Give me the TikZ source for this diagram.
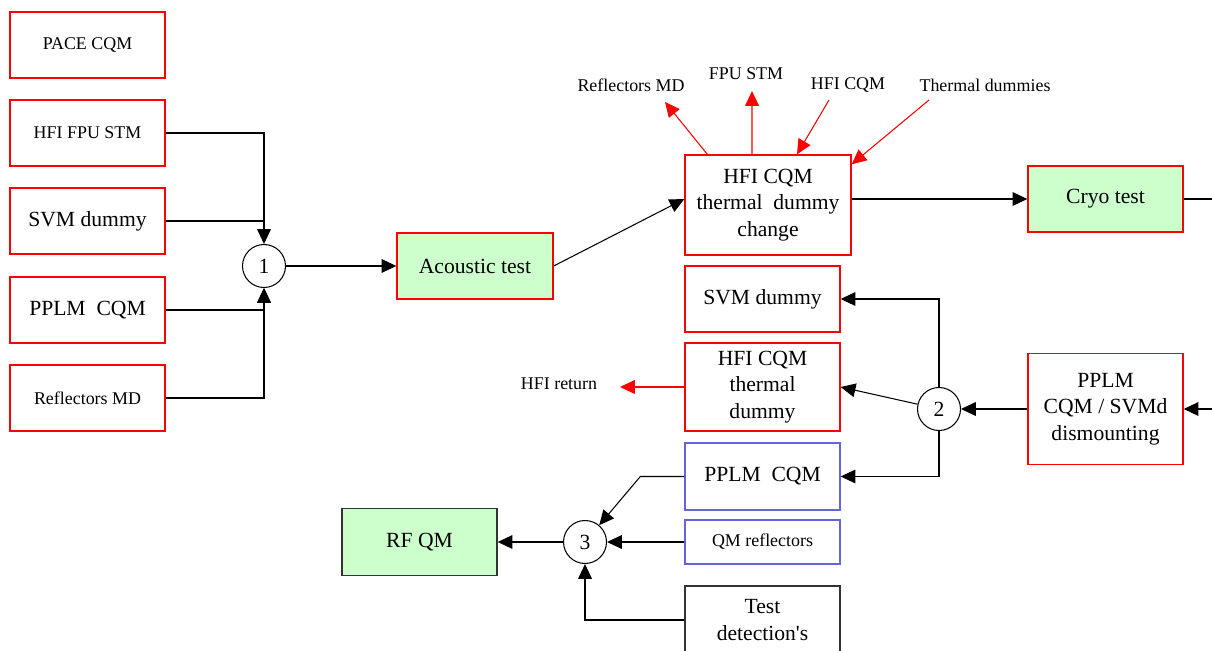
\documentclass[tikz,border=0pt]{standalone}
\usepackage{fontspec}
\setmainfont{Liberation Serif}
\newfontfamily\plainap{Liberation Serif}
\usetikzlibrary{arrows.meta}
\definecolor{testgreen}{RGB}{204,255,204}
\definecolor{qmblue}{RGB}{100,100,220}
\definecolor{darkline}{RGB}{50,50,50}
\newcommand{\smalltxt}{\fontsize{10.2}{12.5}\selectfont}
\newcommand{\bigtxt}{\fontsize{12.3}{15.2}\selectfont}

\begin{document}
\begin{tikzpicture}[x=0.02cm, y=-0.02cm,
    box/.style = {draw=red, line width=0.8pt, minimum width=3.1cm, minimum height=1.32cm, inner sep=0pt, align=center, font=\bigtxt},
    greenbox/.style = {box, fill=testgreen},
    bluebox/.style = {box, draw=qmblue},
    joint/.style = {draw, circle, line width=0.6pt, minimum size=0.86cm, inner sep=0pt, font=\bigtxt},
    lbl/.style = {font=\smalltxt, inner sep=0pt},
    arr/.style = {line width=0.6pt, -{Triangle[length=8.4pt,width=7.8pt]}},
    redarr/.style = {arr, red}]
  \useasboundingbox (0,0) rectangle (1212,651);
  \clip (0,0) rectangle (1212,651);

  % left column
  \node[box, font=\smalltxt] (pace) at (87.5,45) {PACE CQM};
  \node[box, font=\smalltxt] (hfifpu) at (87.5,133) {HFI FPU STM};
  \node[box] (svml) at (87.5,221) {SVM dummy};
  \node[box] (pplml) at (87.5,310) {PPLM\ \ CQM};
  \node[box, font=\smalltxt] (reflmd) at (87.5,398) {Reflectors MD};
  \node[joint] (c1) at (264,266) {1};
  \node[greenbox, minimum width=3.12cm] (acoustic) at (475,266) {Acoustic test};

  % upper branch
  \node[box, minimum width=3.32cm, minimum height=2cm] (change) at (768,205) {HFI CQM\\thermal\ \ dummy\\change};
  \node[greenbox] (cryo) at (1105.5,199) {Cryo test};
  \node[lbl] (lrefl) at (631,85) {Reflectors MD};
  \node[lbl] (lfpu) at (746,74) {FPU STM};
  \node[lbl] (lhfi) at (848,85) {HFI CQM};
  \node[lbl] (ltherm) at (985,85) {Thermal dummies};
  \coordinate (rmdtip) at (665,102);
  \coordinate (fputip) at (752,91);
  \coordinate (hfitail) at (829,100);
  \coordinate (thermtail) at (929,100);
  \coordinate (cryoout) at (1230,199);

  % lower branch
  \node[box, minimum height=2.22cm] (dismount) at (1105.5,409) {PPLM\\CQM / SVMd\\dismounting};
  \coordinate (dismountin) at (1230,409);
  \node[joint] (c2) at (939,409) {2};
  \node[box] (svmr) at (762.5,299) {SVM dummy};
  \node[box, minimum height=1.76cm] (thermal) at (762.5,387) {HFI CQM\\thermal\\dummy};
  \node[lbl] (lret) at (559,384) {HFI return};
  \coordinate (rettip) at (620,387);
  \node[bluebox, minimum height=1.34cm] (pplmq) at (762.5,476.5) {PPLM\ \ CQM};
  \node[bluebox, minimum height=0.88cm, font=\smalltxt] (qmrefl) at (762.5,542) {QM reflectors};
  \node[box, draw=darkline, minimum height=1.36cm] (testdet) at (762.5,620) {Test\\detection{\plainap '}s};
  \node[joint] (c3) at (585,542) {3};
  \node[greenbox, draw=darkline, minimum height=1.34cm] (rfqm) at (419.5,542) {RF QM};

  \draw[arr] (hfifpu.east) -| (c1.north);
  \draw[line width=0.6pt] (svml.east) -- (svml.east -| c1);
  \draw[arr] (pplml.east) -| (c1.south);
  \draw[arr] (reflmd.east) -| (c1.south);
  \draw[arr] (c1.east) -- (acoustic.west);
  \draw[arr] (acoustic.east) -- ([yshift=0.12cm]change.west);
  \draw[arr] (change.east |- cryo.west) -- (cryo.west);
  \draw[line width=0.6pt] (cryo.east) -- (cryoout);

  \draw[redarr] ([xshift=0.46cm]change.north west) -- (rmdtip);
  \draw[redarr] ([xshift=-0.32cm]change.north) -- (fputip);
  \draw[redarr] (hfitail) -- ([xshift=0.58cm]change.north);
  \draw[redarr] (thermtail) -- ([yshift=-0.2cm]change.north east);

  \draw[arr] (dismountin) -- (dismount.east);
  \draw[arr] (dismount.west) -- (c2.east);
  \draw[arr] (c2.north) |- (svmr.east);
  \draw[arr] (c2) -- (thermal.east);
  \draw[arr] (c2.south) |- (pplmq.east);
  \draw[redarr] (thermal.west) -- (rettip);

  \draw[arr] (pplmq.west) -- ([xshift=-0.88cm]pplmq.west) -- (c3);
  \draw[arr] (qmrefl.west) -- (c3.east);
  \draw[arr] (testdet.west) -| (c3.south);
  \draw[arr] (c3.west) -- (rfqm.east);

\end{tikzpicture}
\end{document}
